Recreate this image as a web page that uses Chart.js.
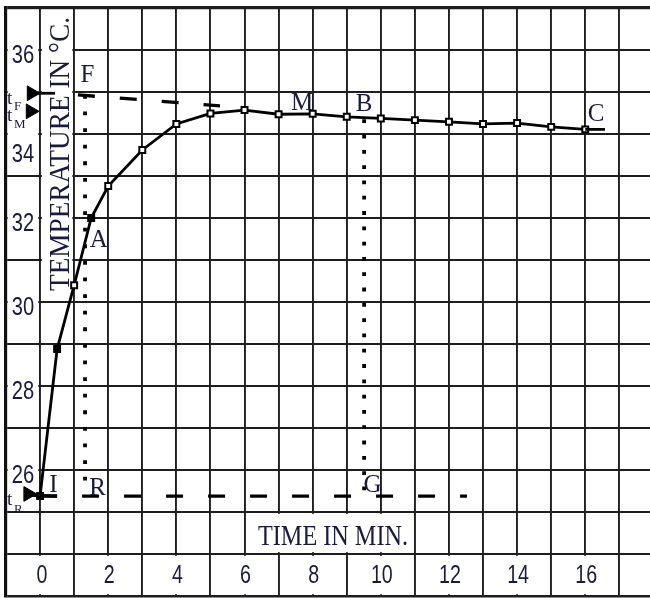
<!DOCTYPE html>
<html>
<head>
<meta charset="utf-8">
<script src="https://cdn.jsdelivr.net/npm/chart.js@4.4.1/dist/chart.umd.min.js"></script>
<style>
    html, body { margin: 0; padding: 0; background: #fff; }
</style>
</head>
<body>
<canvas id="heatingCurve" width="650" height="598"></canvas>
<script>
    // readings of the heating curve (time in min, temperature in degC)
    var times = [0, 0.5, 1, 1.5, 2, 3, 4, 5, 6, 7, 8, 9, 10, 11, 12, 13, 14, 15, 16];
    var temps = [25.38, 28.88, 30.40, 32.00, 32.76, 33.62, 34.24, 34.49, 34.57, 34.47, 34.48,
                 34.41, 34.37, 34.33, 34.29, 34.24, 34.26, 34.17, 34.11];
    var filledTimes = [0, 0.5, 1.5];
    var tailTimes = [16, 16.58];
    var tailTemps = [34.11, 34.11];

    var xTickLabels = [0, 2, 4, 6, 8, 10, 12, 14, 16];
    var yTickLabels = [36, 34, 32, 30, 28, 26];

    // construction lines
    var fDashTimes = [1.11, 5.28];
    var fDashTemps = [34.93, 34.67];
    var rDashTimes = [0, 12.53];
    var rDashTemps = [25.38, 25.38];
    var frDotTimes = [1.32, 1.32];
    var frDotTemps = [34.93, 25.45];
    var bgDotTimes = [9.51, 9.51];
    var bgDotTemps = [34.35, 25.50];

    // arrows marking tF, tM, tR on the left
    var arrowNames = ['F', 'M', 'R'];
    var arrowTimes = [-0.25, -0.28, -0.35];
    var arrowTemps = [34.97, 34.54, 25.43];
    var shaftF = [[-0.35, 34.97], [0.44, 34.97]];
    var shaftR = [[-0.35, 25.40], [0.5, 25.38]];

    var letters = ['F', 'M', 'B', 'C', 'A', 'I', 'R', 'G'];
    var letterTimes = [1.39, 7.69, 9.51, 16.32, 1.72, 0.39, 1.69, 9.76];
    var letterTemps = [35.44, 34.77, 34.75, 34.51, 31.52, 25.67, 25.61, 25.68];

    var textColor = '#1a1a3d';
    var lineColor = '#1e1e1e';

    function pairs(xs, ys) {
        return xs.map(function (x, i) { return {x: x, y: ys[i]}; });
    }

    function drawScaled(ctx, str, cx, cy, font, capH, sx, rot) {
        ctx.save();
        ctx.font = font;
        ctx.fillStyle = textColor;
        ctx.translate(cx, cy);
        if (rot) {
            ctx.rotate(rot);
        }
        ctx.scale(sx, 1);
        ctx.textAlign = 'center';
        ctx.textBaseline = 'alphabetic';
        ctx.fillText(str, 0, capH / 2);
        ctx.restore();
    }

    function fitText(ctx, str, cx, cy, width, capH, rot) {
        var size = capH / 0.66;
        var font = size.toFixed(1) + 'px "Liberation Serif", "Times New Roman", serif';
        ctx.save();
        ctx.font = font;
        var w = ctx.measureText(str).width;
        ctx.restore();
        drawScaled(ctx, str, cx, cy, font, capH, width / w, rot);
    }

    function blankCell(chart, x0, x1, y0, y1) {
        var xs = chart.scales.x, ys = chart.scales.y, ctx = chart.ctx;
        var a = xs.getPixelForValue(x0) + 1.8, b = xs.getPixelForValue(x1) - 1.8;
        var top = ys.getPixelForValue(y1) + 1.8, bottom = ys.getPixelForValue(y0) - 1.8;
        ctx.fillStyle = '#fff';
        ctx.fillRect(a, top, b - a, bottom - top);
    }

    var gridPaper = {
        id: 'gridPaper',
        beforeDatasetsDraw: function (chart) {
            var k;
            // left label column: only odd lines kept
            blankCell(chart, -1, 0, 33, 37);
            for (k = 25; k < 33; k += 2) {
                blankCell(chart, -1, 0, k, k + 2);
            }
            // column of the vertical title
            blankCell(chart, 0, 1, 30, 37);
            // cell of the time title
            blankCell(chart, 6, 11, 24, 25);
            // bottom row, two minutes per cell
            for (k = -1; k < 17; k += 2) {
                blankCell(chart, k, k + 2, 23, 24);
            }
        },
        afterDatasetsDraw: function (chart) {
            var ctx = chart.ctx, xs = chart.scales.x, ys = chart.scales.y;
            var digitFont = '26.5px "Liberation Sans", Arial, sans-serif';

            yTickLabels.forEach(function (v) {
                var nudge = v === 34 ? 18 : 3;
                drawScaled(ctx, String(v), xs.getPixelForValue(-0.5), ys.getPixelForValue(v) + nudge, digitFont, 19, 0.76);
            });
            xTickLabels.forEach(function (v) {
                drawScaled(ctx, String(v), xs.getPixelForValue(v) + (v === 0 ? 2 : 1), ys.getPixelForValue(23.5) - 2, digitFont, 19.5, 0.74);
            });

            fitText(ctx, 'TIME IN MIN.', 333, 535, 150, 19.5);
            fitText(ctx, 'TEMPERATURE IN \u00B0C.', 59.5, 154, 274, 19, -Math.PI / 2);

            ctx.save();
            ctx.font = '25px "Liberation Serif", "Times New Roman", serif';
            ctx.fillStyle = textColor;
            ctx.textAlign = 'center';
            ctx.textBaseline = 'alphabetic';
            letters.forEach(function (l, i) {
                ctx.fillText(l, xs.getPixelForValue(letterTimes[i]), ys.getPixelForValue(letterTemps[i]) + 8.5);
            });

            // t with subscripts beside the arrows
            var subBase = [110, 128, 513];
            var tBase = [104, 121, 505];
            arrowNames.forEach(function (n, i) {
                ctx.font = '19px "Liberation Serif", serif';
                ctx.textAlign = 'left';
                ctx.fillText('t', 7, tBase[i]);
                ctx.font = '13px "Liberation Serif", serif';
                ctx.fillText(n, 14, subBase[i]);
            });
            ctx.restore();
        }
    };

    var pointFill = times.map(function (t) {
        return filledTimes.indexOf(t) >= 0 ? '#000' : '#fff';
    });

    function construction(xs, ys, width, dash) {
        return {
            data: pairs(xs, ys),
            showLine: true,
            borderColor: '#000',
            borderWidth: width,
            borderDash: dash,
            borderCapStyle: 'butt',
            pointRadius: 0
        };
    }

    var datasets = [
        construction(rDashTimes, rDashTemps, 3.3, [17, 25]),
        construction(fDashTimes, fDashTemps, 3.3, [17, 25]),
        construction(frDotTimes, frDotTemps, 3.8, [3.8, 12.8]),
        construction(bgDotTimes, bgDotTemps, 3.8, [3.8, 11.5]),
        construction([shaftF[0][0], shaftF[1][0]], [shaftF[0][1], shaftF[1][1]], 2.8, []),
        construction([shaftR[0][0], shaftR[1][0]], [shaftR[0][1], shaftR[1][1]], 3.3, []),
        construction(tailTimes, tailTemps, 2.8, []),
        {
            data: pairs(times, temps),
            showLine: true,
            borderColor: '#000',
            borderWidth: 2.8,
            tension: 0,
            pointStyle: 'rect',
            pointRadius: 4.2,
            pointBorderWidth: 2,
            pointBorderColor: '#000',
            pointBackgroundColor: pointFill
        },
        {
            data: pairs(arrowTimes, arrowTemps),
            showLine: false,
            pointStyle: 'triangle',
            rotation: 90,
            pointRadius: 8.5,
            pointBorderWidth: 1,
            pointBorderColor: '#000',
            pointBackgroundColor: '#000'
        }
    ];

    var chartEl = document.getElementById('heatingCurve');
    var heatingChart = new Chart(chartEl, {
        type: 'scatter',
        data: { datasets: datasets },
        options: {
            responsive: false,
            animation: false,
            events: [],
            layout: { padding: { left: 6, top: 8, right: 0, bottom: 2 }, autoPadding: false },
            plugins: { legend: { display: false }, tooltip: { enabled: false } },
            scales: {
                x: {
                    type: 'linear',
                    min: -1,
                    max: 17.9,
                    ticks: { display: false, stepSize: 1 },
                    afterBuildTicks: function (scale) {
                        var list = [];
                        for (var v = -1; v <= 17; v++) {
                            list.push({ value: v });
                        }
                        scale.ticks = list;
                    },
                    grid: { color: lineColor, lineWidth: 1.9, drawTicks: false },
                    border: { display: false }
                },
                y: {
                    type: 'linear',
                    min: 23,
                    max: 37,
                    ticks: { display: false, stepSize: 1 },
                    afterBuildTicks: function (scale) {
                        var list = [];
                        for (var v = 23; v <= 37; v++) {
                            list.push({ value: v });
                        }
                        scale.ticks = list;
                    },
                    grid: {
                        color: lineColor,
                        lineWidth: function (c) {
                            if (c.tick && c.tick.value === 37) return 3.2;
                            if (c.tick && c.tick.value === 23) return 2.4;
                            return 1.9;
                        },
                        drawTicks: false
                    },
                    border: { display: true, width: 3.2, color: '#111' }
                }
            }
        },
        plugins: [gridPaper]
    });
</script>
</body>
</html>
